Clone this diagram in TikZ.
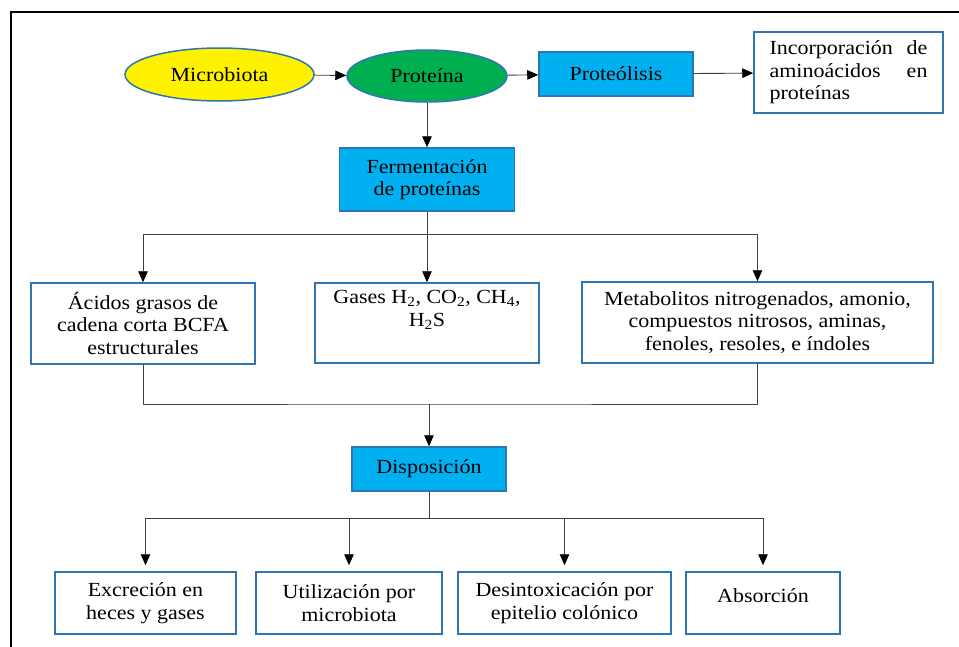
\documentclass[tikz,border=0pt]{standalone}
\usepackage{fontspec}
\setmainfont{Liberation Serif}[FakeStretch=1.1]
\usetikzlibrary{arrows.meta,shapes.geometric}
\definecolor{bordblue}{HTML}{2E75B6}
\definecolor{cyanfill}{HTML}{00B0F0}
\definecolor{greenfill}{HTML}{00B050}
\definecolor{linegray}{HTML}{404040}
\begin{document}
\begin{tikzpicture}[x=1pt,y=-1pt,
  every node/.style={font=\fontsize{20}{22.5}\selectfont, text=black, inner sep=0pt},
  wbox/.style={draw=bordblue, line width=1.5pt, fill=white, align=center},
  cbox/.style={draw=bordblue, line width=1.5pt, fill=cyanfill, align=center},
  oval/.style={ellipse, draw=bordblue, line width=1.5pt},
  conn/.style={draw=linegray, line width=0.9pt},
  arr/.style={conn, -{Triangle[length=11pt,width=9.5pt,color=black]}}]
\useasboundingbox (0,0) rectangle (959,646);
% frame
\draw[line width=2.3pt, black] (11,660) -- (11,12) -- (970,12);
% top row
\node[oval, fill=yellow, minimum width=189pt, minimum height=53pt] (mic) at (219.5,74.5) {Microbiota};
\node[oval, fill=greenfill, minimum width=160pt, minimum height=52pt] (prot) at (427,76) {Proteína};
\node[cbox, minimum width=154pt, minimum height=44pt] (pl) at (616,74) {Proteólisis};
\node[wbox, minimum width=189pt, minimum height=81pt, text width=158pt, align=left] (inc) at (848.5,72.5) {Incorporación \hfill de\\aminoácidos \hfill en\\proteínas};
\node[cbox, minimum width=175pt, minimum height=63pt] (fer) at (427,179.5) {Fermentación\\de proteínas};
% middle row
\node[wbox, minimum width=224pt, minimum height=81pt] (aci) at (143,323.5) {Ácidos grasos de\\cadena corta BCFA\\estructurales};
\node[wbox, minimum width=224pt, minimum height=80pt] (gas) at (427,323) {Gases H\textsubscript{2}, CO\textsubscript{2}, CH\textsubscript{4},\\H\textsubscript{2}S\\\strut};
\node[wbox, minimum width=351pt, minimum height=81pt] (met) at (757.5,322.5) {Metabolitos nitrogenados, amonio,\\compuestos nitrosos, aminas,\\fenoles, resoles, e índoles};
\node[cbox, minimum width=154pt, minimum height=44pt] (dis) at (429,469) {Disposición};
% bottom row
\node[wbox, minimum width=181pt, minimum height=62pt] (exc) at (145.5,603) {Excreción en\\heces y gases};
\node[wbox, minimum width=186pt, minimum height=62pt] (uti) at (349,603) {Utilización por\\microbiota};
\node[wbox, minimum width=213pt, minimum height=62pt] (des) at (564.5,603) {Desintoxicación por\\epitelio colónico};
\node[wbox, minimum width=154pt, minimum height=62pt, text depth=14pt] (abs) at (763,603) {Absorción};
% connectors
\draw[arr] (mic) -- (prot);
\draw[arr] (prot) -- (pl);
\draw[arr] (pl) -- (inc);
\draw[arr] (prot) -- (fer);
\coordinate (j1) at (427,234);
\draw[conn] (fer.south) -- (j1);
\draw[arr] (j1) -- (gas.north);
\draw[arr] (j1) -| (aci.north);
\draw[arr] (j1) -| (met.north);
\coordinate (j2) at (429,404);
\draw[conn] (aci.south) |- (j2) -| (met.south);
\draw[arr] (j2) -- (dis.north);
\coordinate (j3) at (429,518);
\draw[conn] (dis.south) -- (j3);
\draw[arr, shorten >=6pt] (j3) -| (exc.north);
\draw[arr, shorten >=6pt] (j3) -| (uti.north);
\draw[arr, shorten >=6pt] (j3) -| (des.north);
\draw[arr, shorten >=6pt] (j3) -| (abs.north);
\end{tikzpicture}
\end{document}
